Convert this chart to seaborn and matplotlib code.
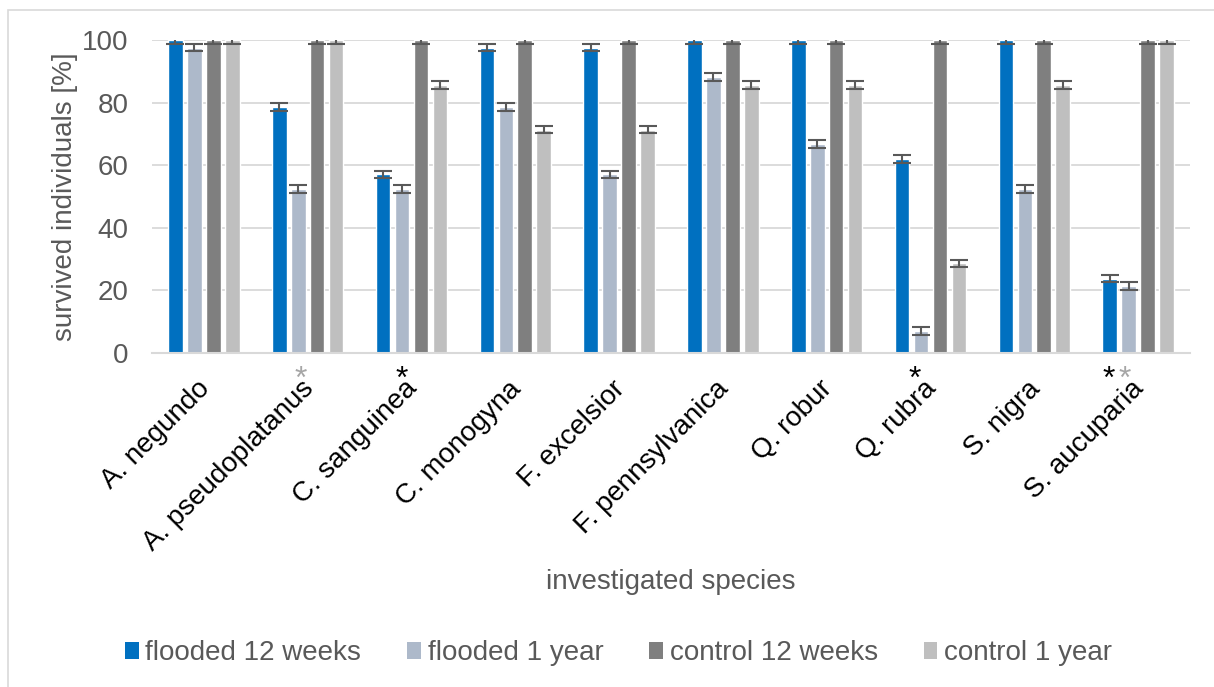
import numpy as np
import pandas as pd
import matplotlib
matplotlib.use("Agg")
import matplotlib.pyplot as plt
import matplotlib.transforms as mtransforms
import seaborn as sns
from matplotlib.patches import Rectangle, Patch

# ---- data -----------------------------------------------------------------
species = ["A. negundo", "A. pseudoplatanus", "C. sanguinea", "C. monogyna",
           "F. excelsior", "F. pennsylvanica", "Q. robur", "Q. rubra",
           "S. nigra", "S. aucuparia"]
series = ["flooded 12 weeks", "flooded 1 year", "control 12 weeks", "control 1 year"]

flooded_12w = [100, 78.6, 57.1, 97.6, 97.6, 100, 100, 61.9, 100, 23.8]
flooded_1y = [97.6, 52.4, 52.4, 78.6, 57.1, 88.1, 66.7, 7.1, 52.4, 21.4]
control_12w = [100, 100, 100, 100, 100, 100, 100, 100, 100, 100]
control_1y = [100, 100, 85.7, 71.4, 71.4, 85.7, 85.7, 28.6, 85.7, 100]
error = 1.2  # symmetric error bar half-width [%]

# significance asterisks below the axis: species, x offset within group, colour
sig_species = ["A. pseudoplatanus", "C. sanguinea", "Q. rubra", "S. aucuparia", "S. aucuparia"]
sig_offset = [-0.07, -0.09, -0.15, -0.28, -0.13]
sig_color = ["#A6A6A6", "#000000", "#000000", "#000000", "#A6A6A6"]

colors = ["#0070C0", "#ADB9CA", "#7F7F7F", "#BFBFBF"]

# ---- style ----------------------------------------------------------------
sns.set_theme(style="white")
plt.rcParams["font.family"] = ["Liberation Sans", "DejaVu Sans"]
TXT = "#595959"
GRID = "#D9D9D9"

df = pd.DataFrame({
    "species": np.repeat(species, len(series)),
    "series": series * len(species),
    "value": np.column_stack([flooded_12w, flooded_1y, control_12w, control_1y]).ravel(),
})

W, H = 1214, 687
fig = plt.figure(figsize=(W / 100, H / 100), dpi=100)
ax = fig.add_axes([152 / W, 1 - 353 / H, 1038 / W, 313 / H])

sns.barplot(data=df, x="species", y="value", hue="series", order=species,
            hue_order=series, palette=colors, saturation=1, width=0.73,
            gap=0.23, errorbar=None, legend=False, ax=ax)

# error bars at each bar centre
bar_groups = list(ax.containers)
for cont in bar_groups:
    xs = [b.get_x() + b.get_width() / 2 for b in cont]
    ys = [b.get_height() for b in cont]
    ax.errorbar(xs, ys, yerr=error, fmt="none", ecolor=TXT, elinewidth=1.5,
                capsize=6.5, capthick=1.5, zorder=5)

ax.set_ylim(0, 100)
ax.set_xlim(-0.5, len(species) - 0.5)
ax.set_yticks(range(0, 101, 20))
ax.yaxis.grid(True, color=GRID, linewidth=1.3)
ax.set_axisbelow(True)
for s in ["top", "right", "left"]:
    ax.spines[s].set_visible(False)
ax.spines["bottom"].set_color(GRID)
ax.spines["bottom"].set_linewidth(1.5)
ax.tick_params(axis="y", length=0, pad=17, labelsize=20, labelcolor=TXT)
ax.tick_params(axis="x", length=0, pad=23)

ax.set_xticks(range(len(species)))
ax.set_xticklabels(species, rotation=45, ha="right", va="center",
                   rotation_mode="anchor", fontsize=20, color="black")
shift = mtransforms.ScaledTranslation(1.5 / 72, 0, fig.dpi_scale_trans)
for lbl in ax.get_xticklabels():
    lbl.set_transform(lbl.get_transform() + shift)

ax.set_ylabel("survived individuals [%]", fontsize=20, color=TXT, labelpad=3)
ax.set_xlabel("investigated species", fontsize=20, color=TXT)
ax.xaxis.label.set_va("center")
ax.xaxis.set_label_coords(0.5, (353 - 582) / 313)

for sp, off, c in zip(sig_species, sig_offset, sig_color):
    ax.text(species.index(sp) + off, -11.2, "*", ha="center", va="baseline",
            fontsize=23, color=c, clip_on=False)

handles = [Patch(facecolor=c, edgecolor="none") for c in colors]
fig.legend(handles, series, loc="center", bbox_to_anchor=(0.5095, 1 - 653 / H),
           ncol=4, frameon=False, fontsize=20, labelcolor=TXT, handlelength=0.5,
           handleheight=0.55, handletextpad=0.25, columnspacing=1.64)

# light outline around the chart area
fig.patches.append(Rectangle((8 / W, -0.01), 1.02, 1 - 10 / H + 0.01,
                             transform=fig.transFigure, fill=False,
                             edgecolor=GRID, linewidth=1.2))

fig.savefig("out.png", dpi=100)
